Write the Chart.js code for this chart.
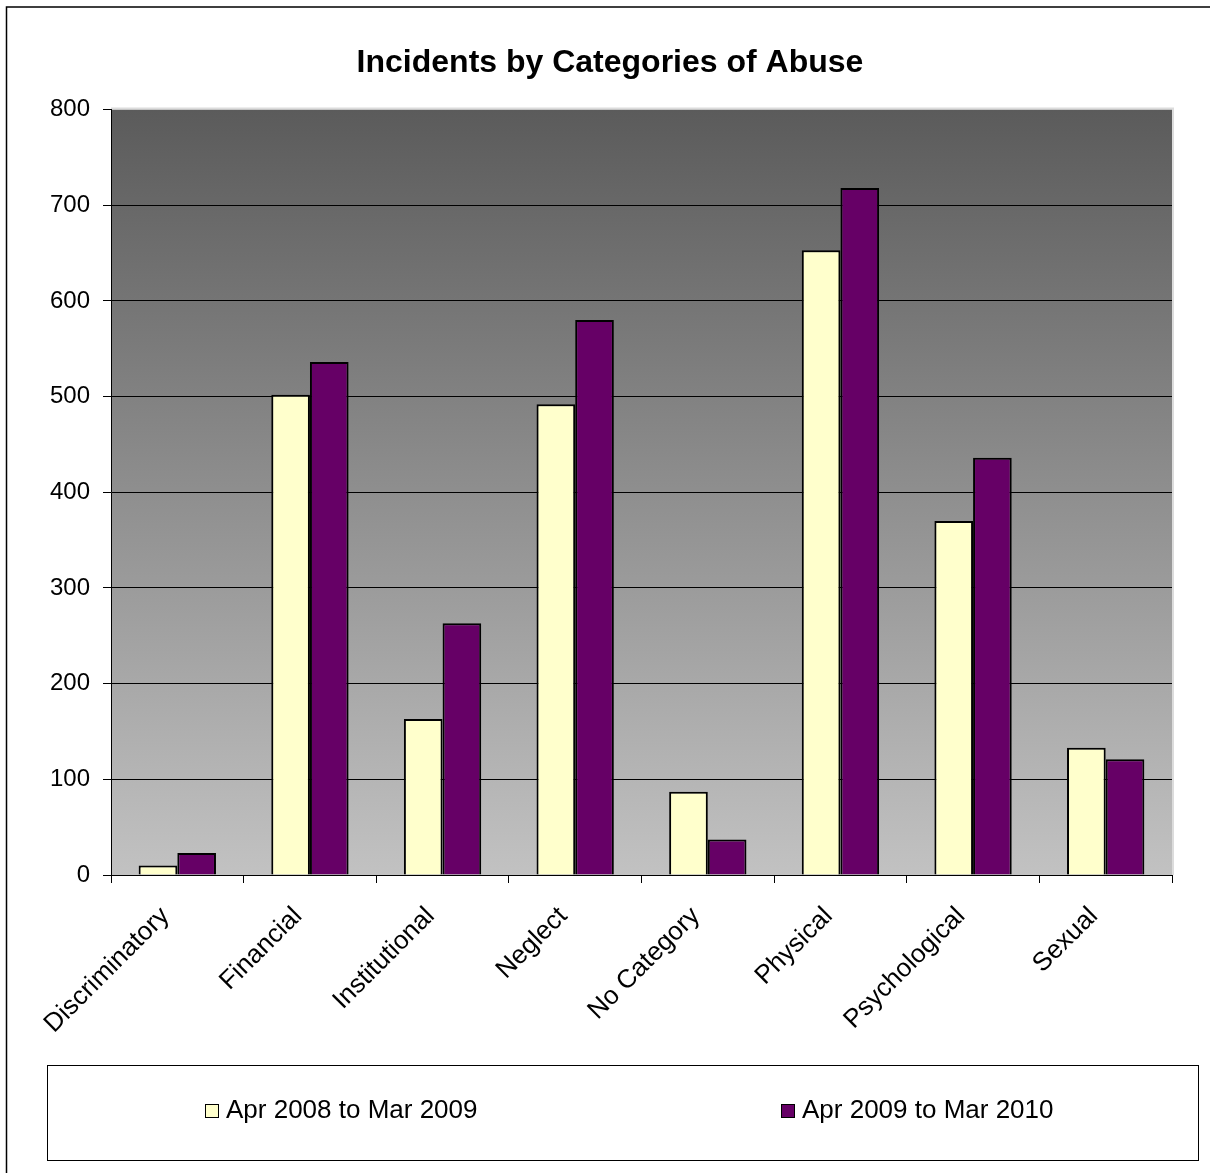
<!DOCTYPE html>
<html>
<head>
<meta charset="utf-8">
<title>Incidents by Categories of Abuse</title>
<script src="https://cdn.jsdelivr.net/npm/chart.js@4.4.0/dist/chart.umd.min.js"></script>
<style>
  html, body { margin: 0; padding: 0; background: #fff; }
  #wrap { width: 1210px; height: 1173px; position: relative; }
</style>
</head>
<body>
<div id="wrap"><canvas id="abuseChart"></canvas></div>
<script>
const categories = ['Discriminatory', 'Financial', 'Institutional', 'Neglect', 'No Category', 'Physical', 'Psychological', 'Sexual'];
const seriesNames = ['Apr 2008 to Mar 2009', 'Apr 2009 to Mar 2010'];
const incidents0809 = [10, 502, 163, 492, 87, 653, 370, 133];
const incidents0910 = [23, 536, 263, 580, 37, 718, 436, 121];
const yMin = 0;
const yMax = 800;
const yStep = 100;

const FONT = "Arial, 'Liberation Sans', sans-serif";
const TITLE = 'Incidents by Categories of Abuse';

// plot background gradient, frame, title and boxed legend
const framePlugin = {
  id: 'frame',
  beforeDraw(chart) {
    const { ctx, chartArea: a } = chart;
    ctx.save();
    ctx.fillStyle = '#fff';
    ctx.fillRect(0, 0, chart.width, chart.height);
    const g = ctx.createLinearGradient(0, a.top, 0, a.bottom);
    g.addColorStop(0, '#5b5b5b');
    g.addColorStop(1, '#c2c2c2');
    ctx.fillStyle = g;
    ctx.fillRect(a.left, a.top, a.right - a.left, a.bottom - a.top);
    ctx.strokeStyle = '#dcdcdc';
    ctx.lineWidth = 2;
    ctx.beginPath();
    ctx.moveTo(a.left, a.top - 1);
    ctx.lineTo(a.right + 1, a.top - 1);
    ctx.lineTo(a.right + 1, a.bottom);
    ctx.stroke();
    ctx.restore();
  },
  afterDraw(chart) {
    const { ctx } = chart;
    ctx.save();
    // outer frame
    ctx.strokeStyle = '#000';
    ctx.lineWidth = 1.5;
    ctx.strokeRect(6.5, 7, 1400, 1400);

    // title
    ctx.fillStyle = '#000';
    ctx.font = 'bold 32px ' + FONT;
    ctx.textAlign = 'center';
    ctx.textBaseline = 'alphabetic';
    ctx.fillText(TITLE, 610, 72);

    // legend
    ctx.lineWidth = 1;
    ctx.strokeRect(47.5, 1065.5, 1151, 95);
    const itemX = [205, 781];
    ctx.font = '26px ' + FONT;
    ctx.textAlign = 'left';
    ctx.textBaseline = 'middle';
    chart.data.datasets.forEach((ds, i) => {
      ctx.fillStyle = ds.backgroundColor;
      ctx.fillRect(itemX[i] + 0.5, 1104.5, 13, 13);
      ctx.strokeStyle = '#000';
      ctx.strokeRect(itemX[i] + 0.5, 1104.5, 13, 13);
      ctx.fillStyle = '#000';
      ctx.fillText(ds.label, itemX[i] + 21, 1111);
    });
    ctx.restore();
  }
};

new Chart(document.getElementById('abuseChart'), {
  type: 'bar',
  data: {
    labels: categories,
    datasets: [
      { label: seriesNames[0], data: incidents0809, backgroundColor: '#ffffcc', borderColor: '#000', borderWidth: 2 },
      { label: seriesNames[1], data: incidents0910, backgroundColor: '#660066', borderColor: '#000', borderWidth: 2 }
    ]
  },
  options: {
    responsive: true,
    maintainAspectRatio: false,
    animation: false,
    categoryPercentage: 0.583,
    barPercentage: 1,
    layout: { padding: { top: 109.5, right: 38, bottom: 108, left: 0 } },
    plugins: {
      legend: { display: false },
      title: { display: false },
      tooltip: { enabled: false }
    },
    scales: {
      x: {
        offset: true,
        grid: { offset: true, drawOnChartArea: false, tickLength: 8, tickColor: '#000' },
        border: { color: '#000', width: 1 },
        ticks: {
          maxRotation: 45, minRotation: 45, color: '#000',
          padding: 18, labelOffset: -12,
          font: { family: FONT, size: 26 }
        },
        afterFit(scale) { scale.height = 190; }
      },
      y: {
        min: yMin,
        max: yMax,
        grid: {
          color: c => (c.tick && c.tick.value === yMax ? 'rgba(0,0,0,0)' : '#000'),
          tickColor: '#000',
          tickLength: 8,
          lineWidth: 1
        },
        border: { color: '#000', width: 1 },
        ticks: { stepSize: yStep, color: '#000', padding: 13, font: { family: FONT, size: 24 } },
        afterFit(scale) { scale.width = 111; }
      }
    }
  },
  plugins: [framePlugin]
});
</script>
</body>
</html>
